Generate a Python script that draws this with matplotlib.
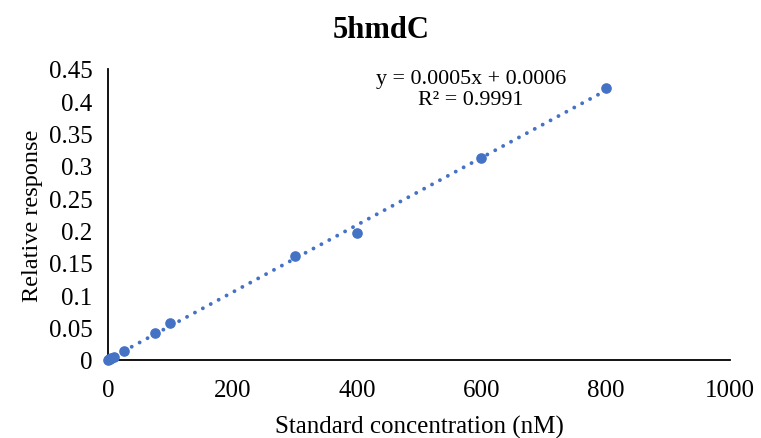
import numpy as np
import matplotlib.pyplot as plt

plt.rcParams['font.family'] = ['Liberation Serif', 'DejaVu Serif']

# standards (nM) and measured relative response
conc = [0, 1, 2.5, 5, 10, 25, 75, 100, 300, 400, 600, 800]
response = [0.0, 0.0008, 0.0015, 0.003, 0.005, 0.014, 0.042, 0.057, 0.161, 0.196, 0.312, 0.421]

x_ticks = [0, 200, 400, 600, 800, 1000]
y_ticks = [0, 0.05, 0.1, 0.15, 0.2, 0.25, 0.3, 0.35, 0.4, 0.45]
y_labels = ['0', '0.05', '0.1', '0.15', '0.2', '0.25', '0.3', '0.35', '0.4', '0.45']

color = '#4472C4'

fig = plt.figure(figsize=(7.61, 4.39), dpi=100)
ax = fig.add_axes([108 / 761, 1 - 361 / 439, 622 / 761, 291 / 439])

# linear trendline
slope, intercept = np.polyfit(conc, response, 1)
xs = np.array([0, max(conc)])
ax.plot(xs, slope * xs + intercept, linestyle=(0, (0.01, 2.3)), color=color,
        linewidth=2.8, dash_capstyle='round', zorder=2)
ax.scatter(conc, response, s=44, color=color, zorder=3, clip_on=False)

ax.set_xlim(0, 1000)
ax.set_ylim(0, 0.45)
ax.set_xticks(x_ticks)
ax.set_yticks(y_ticks)
ax.set_yticklabels(y_labels)
ax.tick_params(length=0, labelsize=18)
ax.tick_params(axis='x', pad=14)
ax.tick_params(axis='y', pad=11)

for side in ['top', 'right']:
    ax.spines[side].set_visible(False)
for side in ['left', 'bottom']:
    ax.spines[side].set_color('black')
    ax.spines[side].set_linewidth(1.3)

ax.set_xlabel('Standard concentration (nM)', fontsize=18, labelpad=10)
ax.set_ylabel('Relative response', fontsize=17.5, labelpad=4)
fig.text(381 / 761, 1 - 30 / 439, '5hmdC', ha='center', va='center',
         fontsize=22, fontweight='bold')

ax.text(471 / 761, 1 - 90 / 439, 'y = 0.0005x + 0.0006\nR² = 0.9991',
        transform=fig.transFigure, ha='center', va='center',
        fontsize=15.8, linespacing=1.15)

fig.savefig('out.png', dpi=100)
